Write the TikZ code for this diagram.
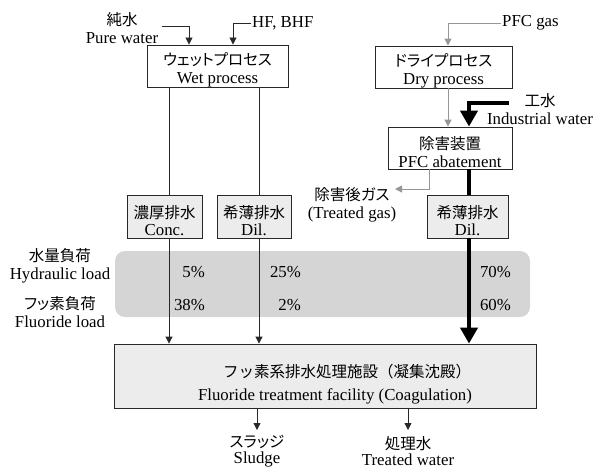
\documentclass[tikz,border=0pt]{standalone}
\usepackage{fontspec}
\setmainfont{Liberation Serif}
\newfontfamily\jp[RawFeature=+palt]{Noto Sans CJK JP}
\newfontfamily\jpf{Noto Sans CJK JP}
\usetikzlibrary{arrows.meta}
\definecolor{boxfill}{RGB}{236,236,236}
\definecolor{bandfill}{RGB}{213,213,213}
\definecolor{arrgray}{RGB}{150,150,150}
\definecolor{edge}{RGB}{40,40,40}
\newcommand\J[1]{{\jp\fontsize{15.5}{17.5}\selectfont #1}}
\newcommand\Jb[1]{{\jp\fontsize{15.5}{17.5}\selectfont\rule{0pt}{21pt}#1}}
\begin{document}
\begin{tikzpicture}[x=1pt,y=-1pt,
  font=\fontsize{16.8}{17.5}\selectfont,
  box/.style={draw=edge, line width=0.8pt, inner sep=0pt, align=center},
  fbox/.style={box, fill=boxfill},
  lbl/.style={inner sep=1pt, align=center},
  flow/.style={draw=edge, line width=0.8pt},
  flowa/.style={flow, -{Triangle[length=7pt,width=7pt]}},
  gflowa/.style={draw=arrgray, line width=1pt, -{Triangle[length=7pt,width=7pt]}},
  bigflow/.style={draw=black, line width=4.5pt, line join=miter},
  bigflowa/.style={bigflow, -{Triangle[length=16pt,width=17pt]}}
]
\useasboundingbox (0,0) rectangle (596,471);

% grey band
\fill[bandfill, rounded corners=10pt] (115,251) rectangle (530,317);

% boxes
\node[box, minimum width=141pt, minimum height=38pt] (wet) at (217.5,66) {\Jb{ウェットプロセス}\\Wet process};
\node[box, minimum width=137pt, minimum height=40pt] (dry) at (443.5,67) {\Jb{ドライプロセス}\\Dry process};
\node[box, minimum width=124pt, minimum height=42pt] (abate) at (450,148) {\Jb{除害装置}\\PFC abatement};
\node[fbox, minimum width=75pt, minimum height=43pt] (conc) at (164.5,216.5) {\Jb{濃厚排水}\\Conc.};
\node[fbox, minimum width=74pt, minimum height=43pt] (dil1) at (254,216.5) {\Jb{希薄排水}\\Dil.};
\node[fbox, minimum width=81pt, minimum height=43pt] (dil2) at (467.5,216.5) {\Jb{希薄排水}\\Dil.};
\node[fbox, minimum width=422pt, minimum height=64pt] (treat) at (325,376) {};
\node[lbl] (treattxt) at (335,384) {\hspace*{24pt}{\jpf\fontsize{15.5}{17.5}\selectfont フッ素系排水処理施設（凝集沈殿）}\\[5pt]Fluoride treatment facility (Coagulation)};

% column coordinates
\coordinate (xc) at (169,0);
\coordinate (xd) at (259,0);
\coordinate (xt) at (469,0);
\coordinate (xpw) at (189,0);
\coordinate (xhf) at (233,0);
\coordinate (xpfc) at (448,0);
\coordinate (xg) at (429,0);

% input labels
\node[lbl] (pw) at (122,28) {\J{純水}\\Pure water};
\coordinate (pwstart) at (162,26);
\node[lbl, anchor=west] (hf) at (251,23) {HF, BHF};
\node[lbl, anchor=west] (pfc) at (501,23) {PFC gas};
\node[lbl] (iw) at (540,109) {\J{工水}\\Industrial water};
\coordinate (iwstart) at (509,103);

% inputs
\draw[flowa] (pwstart) -| (wet.north -| xpw);
\draw[flowa] (hf.west) -| (wet.north -| xhf);
\draw[gflowa] (pfc.west) -| (dry.north -| xpfc);
\draw[gflowa] (dry.south -| xpfc) -- (abate.north -| xpfc);
\draw[bigflowa] (iwstart) -| (abate.north -| xt);

% treated gas
\node[lbl] (tg) at (352,205) {\J{除害後ガス}\\(Treated gas)};
\coordinate (tgend) at (395,189);
\draw[gflowa] (abate.south -| xg) |- (tgend);

% wet lines
\draw[flow] (wet.south -| xc) -- (conc.north -| xc);
\draw[flow] (wet.south -| xd) -- (dil1.north -| xd);
\draw[bigflow] (abate.south -| xt) -- (dil2.north -| xt);

% into treatment
\draw[flowa] (conc.south -| xc) -- (treat.north -| xc);
\draw[flowa] (dil1.south -| xd) -- (treat.north -| xd);
\draw[bigflowa] (dil2.south -| xt) -- (treat.north -| xt);

% row labels
\node[lbl] (hl) at (60,266) {\J{水量負荷}\\Hydraulic load};
\node[lbl] (fl) at (60,312) {\J{フッ素負荷}\\Fluoride load};

% percentages
\node[lbl, anchor=east] (p1) at (206,272) {5\%};
\node[lbl, anchor=east] (p2) at (302,272) {25\%};
\node[lbl, anchor=east] (p3) at (512,272) {70\%};
\node[lbl, anchor=east] (p4) at (206,305) {38\%};
\node[lbl, anchor=east] (p5) at (302,305) {2\%};
\node[lbl, anchor=east] (p6) at (512,305) {60\%};

% outputs
\node[lbl] (sl) at (257,451) {\J{スラッジ}\\[-1.5pt]Sludge};
\node[lbl] (tw) at (408,451) {\J{処理水}\\[-1.5pt]Treated water};
\coordinate (slin) at (257,430);
\coordinate (twin) at (408,430);
\draw[flowa] (treat.south -| slin) -- (slin);
\draw[flowa] (treat.south -| twin) -- (twin);
\end{tikzpicture}
\end{document}
